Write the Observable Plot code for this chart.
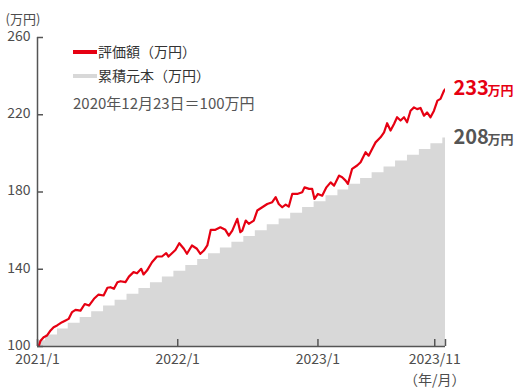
<!DOCTYPE html>
<html>
<head>
<meta charset="utf-8">
<script src="https://cdn.jsdelivr.net/npm/d3@7"></script>
<script src="https://cdn.jsdelivr.net/npm/@observablehq/plot@0.6"></script>
<style>
  body { margin: 0; background: #fff; }
  #wrap { position: relative; width: 520px; height: 392px; font-family: "Noto Sans CJK JP", "Noto Sans", sans-serif; }
  .legend { position: absolute; left: 73px; top: 39px; font-size: 14px; color: #333; line-height: 24px; white-space: nowrap; }
  .sw { display: inline-block; width: 24px; height: 4px; vertical-align: middle; margin-right: 1px; position: relative; top: -1px; }
  .note { margin-top: 4px; color: #555; font-size: 15px; }
</style>
</head>
<body>
<div id="wrap">
  <div class="legend">
    <div><span class="sw" style="background:#e60012"></span>評価額（万円）</div>
    <div><span class="sw" style="background:#d8d8d8"></span>累積元本（万円）</div>
    <div class="note">2020年12月23日＝100万円</div>
  </div>
</div>
<script>
// 評価額 (valuation, 万円)
const evalDates = [
"2021-01-04","2021-01-09","2021-01-17","2021-01-26","2021-02-04","2021-02-12","2021-02-21","2021-03-06","2021-03-15","2021-03-23","2021-04-01","2021-04-10","2021-04-23","2021-05-04","2021-05-15","2021-05-28","2021-06-09","2021-06-22","2021-07-02","2021-07-10","2021-07-19","2021-07-28","2021-08-05","2021-08-18","2021-08-27","2021-09-08","2021-09-17","2021-09-28","2021-10-04","2021-10-13","2021-10-26","2021-11-08","2021-11-21","2021-12-02","2021-12-08","2021-12-17","2021-12-26",
"2022-01-05","2022-01-17","2022-01-25","2022-02-07","2022-02-20","2022-03-01","2022-03-10","2022-03-19","2022-03-28","2022-04-09","2022-04-22","2022-05-05","2022-05-14","2022-05-23","2022-06-05","2022-06-13","2022-06-18","2022-06-27","2022-07-05","2022-07-18","2022-07-27","2022-08-09","2022-08-22","2022-09-04","2022-09-13","2022-09-21","2022-09-30","2022-10-09","2022-10-17","2022-10-26","2022-11-08","2022-11-21","2022-11-27","2022-12-09","2022-12-17","2022-12-23",
"2023-01-01","2023-01-12","2023-01-23","2023-02-03","2023-02-12","2023-02-25","2023-03-05","2023-03-14","2023-03-20","2023-03-31","2023-04-13","2023-04-22","2023-05-05","2023-05-13","2023-05-22","2023-05-31","2023-06-13","2023-06-22","2023-06-30","2023-07-09","2023-07-18","2023-07-26","2023-08-04","2023-08-13","2023-08-21","2023-08-30","2023-09-08","2023-09-16","2023-09-25","2023-10-04","2023-10-12","2023-10-21","2023-10-30","2023-11-08","2023-11-16","2023-11-25","2023-11-29"];
const evalValues = [
100,103,104.8,105.7,108.3,110,110.9,112.6,113.5,114.3,117.8,119,118.6,122,121.2,124.7,126.9,126.4,130.4,130.7,129.9,133.3,133.8,133.3,136.2,138.5,137.9,140.2,137.3,139.3,143.6,146.6,146.6,148.3,146.6,148.3,150,
153.5,150.6,148,152.3,150.6,148,149.7,152.3,160.4,160.4,161.7,160.4,157.4,160,166.1,159.2,160,165.2,163.5,165.2,170.4,172.1,173.8,174.7,177.3,173.8,172.1,173.5,172.4,179,179,179.9,182.4,181.6,181.6,176.4,
179,178.1,182.4,185,183.3,188.5,187.6,185.9,184.2,192,193.7,195.4,200.6,198.8,202.3,205.7,208.3,210.9,215.6,211.8,215.2,218.7,217,218.7,216.1,222.1,223.8,222.9,223.5,219.5,221.2,218.7,222.1,227.3,228.2,232.4,233.3];

// 累積元本 (cumulative principal, 万円)
const principalDates = [
"2020-12-23","2021-01-22","2021-02-22","2021-03-22","2021-04-22","2021-05-22","2021-06-22","2021-07-22","2021-08-22","2021-09-22","2021-10-22","2021-11-22","2021-12-22",
"2022-01-22","2022-02-22","2022-03-22","2022-04-22","2022-05-22","2022-06-22","2022-07-22","2022-08-22","2022-09-22","2022-10-22","2022-11-22","2022-12-22",
"2023-01-22","2023-02-22","2023-03-22","2023-04-22","2023-05-22","2023-06-22","2023-07-22","2023-08-22","2023-09-22","2023-10-22","2023-11-22","2023-11-29"];
const principalValues = [
103,106,109,112,115,118,121,124,127,130,133,136,139,
142,145,148,151,154,157,160,163,166,169,172,175,
178,181,184,187,190,193,196,199,202,205,208,208];

const xDomain = ["2021-01-01","2023-11-29"];
const xTickDates = ["2021-01-01","2022-01-01","2023-01-01","2023-11-01"];
const xTickLabels = ["2021/1","2022/1","2023/1","2023/11"];
const yDomain = [100, 260];
const yTicks = [100, 140, 180, 220, 260];

const evalData = evalDates.map((d, i) => ({date: new Date(d), value: evalValues[i]}));
const principalData = principalDates.map((d, i) => ({date: new Date(d), value: principalValues[i]}));
const tickMap = new Map(xTickDates.map((d, i) => [+new Date(d), xTickLabels[i]]));
const xTicks = xTickDates.map(d => new Date(d));
const xDom = xDomain.map(d => new Date(d));
const lastEval = evalData[evalData.length - 1];
const lastPrin = principalData[principalData.length - 1];

const RED = "#e60012";
const AX = "#555";
const FONT = '"Noto Sans CJK JP", "Noto Sans", sans-serif';

const chart = Plot.plot({
  width: 520,
  height: 392,
  marginLeft: 37,
  marginRight: 75,
  marginTop: 37,
  marginBottom: 46,
  style: {fontFamily: FONT, fontSize: "14px", color: "#4d4d4d", background: "transparent", overflow: "visible"},
  x: {type: "utc", domain: xDom},
  y: {domain: yDomain},
  marks: [
    Plot.areaY(principalData, {x: "date", y1: yDomain[0], y2: "value", curve: "step-after", fill: "#d8d8d8", clip: true}),
    Plot.line(evalData, {x: "date", y: "value", stroke: RED, strokeWidth: 2.2, strokeLinejoin: "round", strokeLinecap: "round", clip: true}),
    Plot.ruleY([yDomain[0]], {stroke: AX, strokeWidth: 1.5}),
    Plot.ruleX([xDom[0]], {stroke: AX, strokeWidth: 1.5}),
    Plot.axisX({ticks: [...xTicks, xDom[1]], tickSize: -7, fill: "none", stroke: AX, strokeWidth: 1.5, label: null}),
    Plot.axisX({ticks: xTicks, tickSize: 0, tickPadding: 8, tickFormat: d => tickMap.get(+d), fill: "#4d4d4d", fontSize: 14, label: null}),
    Plot.axisY({ticks: yTicks, tickSize: -6, fill: "none", stroke: AX, strokeWidth: 1.5, label: null}),
    Plot.axisY({ticks: yTicks, tickSize: 0, tickPadding: 7, dy: -1, fill: "#4d4d4d", fontSize: 14, label: null}),
    Plot.text(["(万円)"], {frameAnchor: "top-left", dx: -32, dy: -23, textAnchor: "start", fill: "#4d4d4d", fontSize: 13}),
    Plot.text(["（年/月）"], {x: [xTicks[3]], frameAnchor: "bottom", dy: 38, textAnchor: "middle", fill: "#4d4d4d", fontSize: 14}),
    Plot.text([lastEval], {x: "date", y: "value", text: d => d3.format(".0f")(d.value), dx: 8, textAnchor: "start", fill: RED, fontSize: 20, fontWeight: "bold"}),
    Plot.text([lastEval], {x: "date", y: "value", text: () => "万円", dx: 42, dy: 2, textAnchor: "start", fill: RED, fontSize: 13, fontWeight: "bold"}),
    Plot.text([lastPrin], {x: "date", y: "value", text: d => d3.format(".0f")(d.value), dx: 8, textAnchor: "start", fill: "#555", fontSize: 20, fontWeight: "bold"}),
    Plot.text([lastPrin], {x: "date", y: "value", text: () => "万円", dx: 42, dy: 2, textAnchor: "start", fill: "#555", fontSize: 13, fontWeight: "bold"})
  ]
});
chart.style.position = "absolute";
chart.style.left = "0";
chart.style.top = "0";
document.getElementById("wrap").prepend(chart);
</script>
</body>
</html>
